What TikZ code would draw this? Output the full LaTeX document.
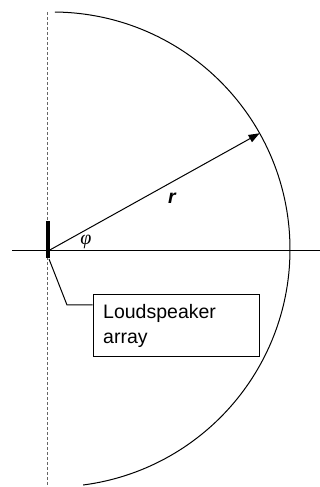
\documentclass[tikz,border=0pt]{standalone}
\usepackage{fontspec}
\setmainfont{Liberation Sans}
\newfontfamily\greekserif{Liberation Serif}
\usetikzlibrary{arrows.meta,calc}
\begin{document}
\begin{tikzpicture}[x=1pt,y=1pt,
  thinline/.style={line width=1pt,black},
  dashline/.style={line width=1pt,gray!80!black,dash pattern=on 3pt off 2pt},
  labelbox/.style={draw,line width=1pt,anchor=north west,minimum width=166.6pt,minimum height=62pt,text width=146.6pt,inner xsep=10pt,inner ysep=0pt,align=left,font=\fontsize{19.5}{25}\selectfont}]
\useasboundingbox (0,0) rectangle (320,487);
% reference points
\coordinate (C) at (52.5,237.5);
\coordinate (O) at (48,236);
\coordinate (Hl) at (12,236);
\coordinate (Hr) at (320,236);
\coordinate (Dt) at (47,475);
\coordinate (Db) at (47,0);
\coordinate (T) at ($(C)+(29.3:237.5)$);
\coordinate (A0) at ($(C)+(89.4:237.5)$);
\coordinate (K1) at (49,228);
\coordinate (K2) at (67,182);
% dashed axis
\draw[dashline] (Dt) -- (Db);
% horizontal axis
\draw[thinline] (Hl) -- (Hr);
% semicircle
\draw[thinline] (A0) arc[start angle=89.4,end angle=-82.6,radius=237.5];
% radius arrow
\draw[thinline,-{Triangle[length=11pt,width=8pt]}] (O) -- (T);
% loudspeaker bar
\node[fill=black,inner sep=0pt,minimum width=4.5pt,minimum height=37pt] (spk) at (48,247.5) {};
% labels
\node (phi) at (86,245) {\fontsize{20}{22}\selectfont\greekserif\itshape φ};
\node (r) at (172,289) {\fontsize{19.5}{22}\selectfont\bfseries\itshape r};
\node[labelbox] (box) at (92.7,193) {Loudspeaker\\array};
\draw[thinline] (K1) -- (K2) -- (box.west |- K2);
\end{tikzpicture}
\end{document}
